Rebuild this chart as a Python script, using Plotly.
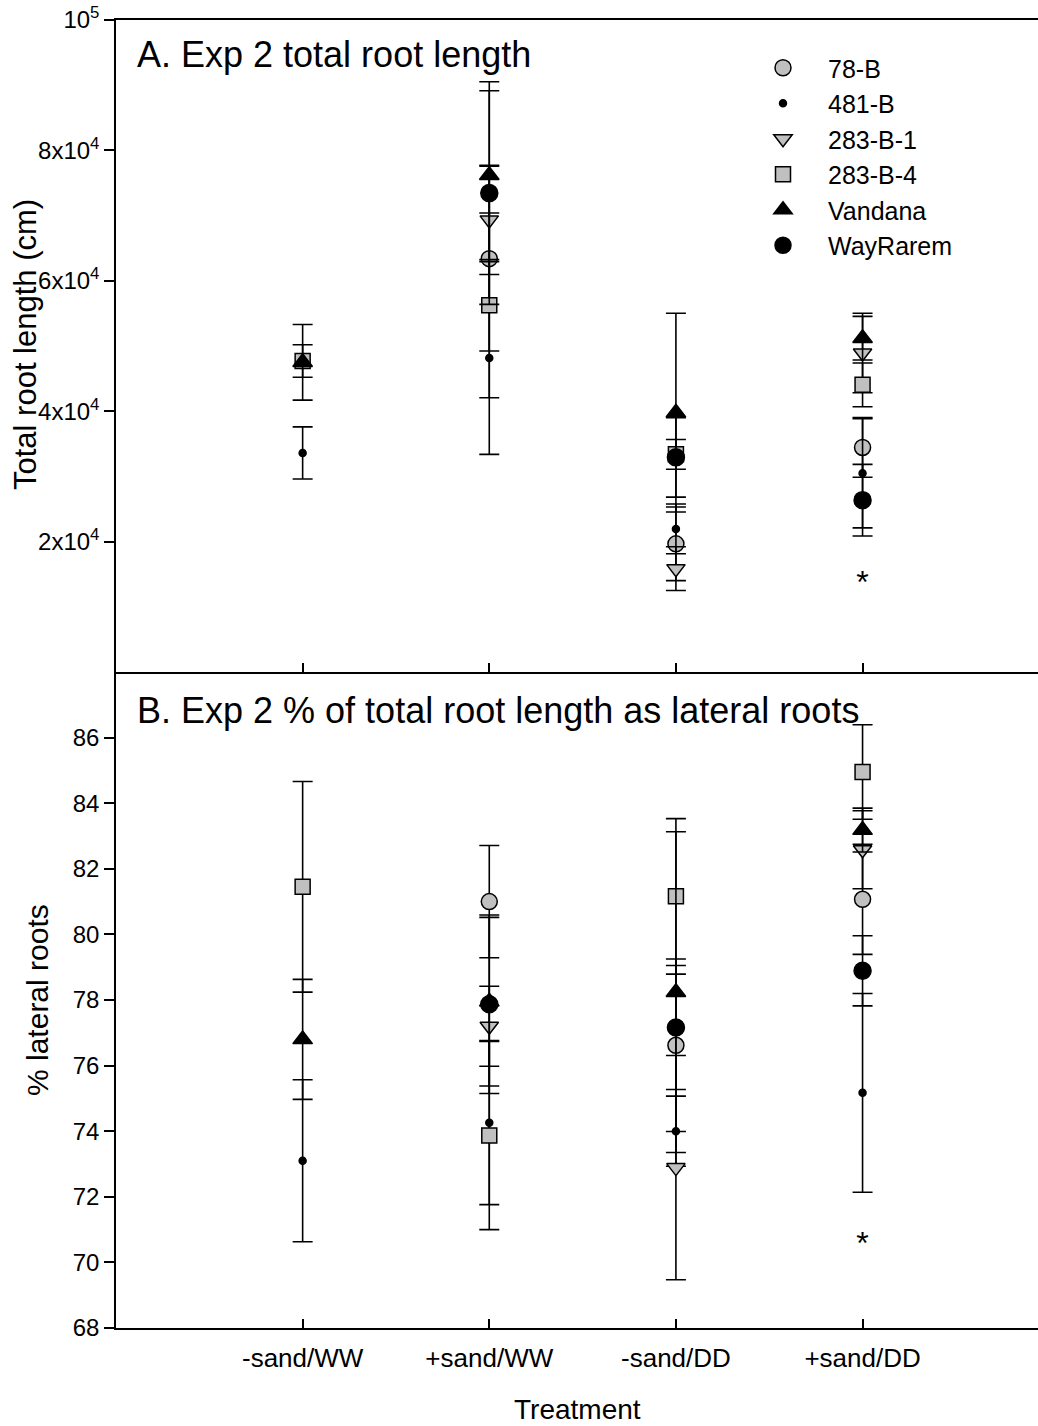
import plotly.graph_objects as go

treatments = ["-sand/WW", "+sand/WW", "-sand/DD", "+sand/DD"]
tpos = [1, 2, 3, 4]
genotypes = ["78-B", "481-B", "283-B-1", "283-B-4", "Vandana", "WayRarem"]

# Panel A: total root length (cm), means and error
len_78B = [None, 63400, 19660, 34440]
len_78B_err = [None, 14170, 5640, 4570]
len_481B = [33600, 48160, 21950, 30480]
len_481B_err = [4000, 14780, 3810, 8380]
len_283B1 = [None, 69340, 15850, 48920]
len_283B1_err = [None, 8380, 3350, 6100]
len_283B4 = [47700, 56240, 33380, 44040]
len_283B4_err = [2500, 14170, 2290, 3350]
len_vand = [47500, 76200, 39780, 51200]
len_vand_err = [5800, 12950, 15240, 3350]
len_wr = [None, 73450, 32920, 26360]
len_wr_err = [None, 17070, 6100, 5490]

# Panel B: % lateral roots
lat_78B = [None, 81.0, 76.62, 81.07]
lat_78B_err = [None, 1.71, 2.63, 1.68]
lat_481B = [73.1, 74.26, 74.0, 75.17]
lat_481B_err = [2.47, 2.5, 1.07, 3.03]
lat_283B1 = [None, 77.2, 72.89, 82.58]
lat_283B1_err = [None, 1.22, 3.42, 1.19]
lat_283B4 = [81.45, 73.87, 81.16, 84.95]
lat_283B4_err = [3.21, 2.87, 2.37, 1.44]
lat_vand = [76.8, 77.95, 78.24, 83.18]
lat_vand_err = [1.83, 2.57, 4.89, 0.67]
lat_wr = [None, 77.87, 77.16, 78.89]
lat_wr_err = [None, 2.72, 1.89, 1.07]

# significance marks
sig_x = [4]
sig_len = [13400]
sig_lat = [70.5]

top_ticks = [20000, 40000, 60000, 80000, 100000]
top_ticktext = ["2x10<sup>4</sup>", "4x10<sup>4</sup>", "6x10<sup>4</sup>", "8x10<sup>4</sup>", "10<sup>5</sup>"]
bot_ticks = [68, 70, 72, 74, 76, 78, 80, 82, 84, 86]

FONT = "Liberation Sans, Arial, sans-serif"
GRAY = "#c0c0c0"

styles = {
    "78-B": dict(symbol="circle", size=16, color=GRAY),
    "481-B": dict(symbol="circle", size=7, color="black"),
    "283-B-1": dict(symbol="triangle-down", size=16, color=GRAY),
    "283-B-4": dict(symbol="square", size=15, color=GRAY),
    "Vandana": dict(symbol="triangle-up", size=17, color="black"),
    "WayRarem": dict(symbol="circle", size=17, color="black"),
}

len_data = {
    "78-B": (len_78B, len_78B_err),
    "481-B": (len_481B, len_481B_err),
    "283-B-1": (len_283B1, len_283B1_err),
    "283-B-4": (len_283B4, len_283B4_err),
    "Vandana": (len_vand, len_vand_err),
    "WayRarem": (len_wr, len_wr_err),
}
lat_data = {
    "78-B": (lat_78B, lat_78B_err),
    "481-B": (lat_481B, lat_481B_err),
    "283-B-1": (lat_283B1, lat_283B1_err),
    "283-B-4": (lat_283B4, lat_283B4_err),
    "Vandana": (lat_vand, lat_vand_err),
    "WayRarem": (lat_wr, lat_wr_err),
}

fig = go.Figure()


def marker_for(g):
    s = styles[g]
    return dict(symbol=s["symbol"], size=s["size"], color=s["color"],
                line=dict(color="black", width=1.5))


for g in genotypes:
    y, e = len_data[g]
    fig.add_trace(go.Scatter(
        x=tpos, y=y, mode="markers", name=g, legendgroup=g,
        marker=marker_for(g),
        error_y=dict(type="data", array=e, visible=True, color="black",
                     thickness=1.6, width=10),
        xaxis="x2", yaxis="y2", showlegend=True,
    ))
for g in genotypes:
    y, e = lat_data[g]
    fig.add_trace(go.Scatter(
        x=tpos, y=y, mode="markers", name=g, legendgroup=g,
        marker=marker_for(g),
        error_y=dict(type="data", array=e, visible=True, color="black",
                     thickness=1.6, width=10),
        xaxis="x", yaxis="y", showlegend=False,
    ))

fig.add_trace(go.Scatter(x=sig_x, y=sig_len, mode="text", text=["*"],
                         textfont=dict(size=32, color="black", family=FONT),
                         xaxis="x2", yaxis="y2", showlegend=False))
fig.add_trace(go.Scatter(x=sig_x, y=sig_lat, mode="text", text=["*"],
                         textfont=dict(size=32, color="black", family=FONT),
                         xaxis="x", yaxis="y", showlegend=False))

split = (1328 - 672) / 1308.0
xr = [0, 4.94]
common_x = dict(range=xr, showgrid=False, zeroline=False, showline=True,
                linecolor="black", linewidth=1.5, ticks="inside", ticklen=9,
                tickwidth=1.5, tickcolor="black", tickvals=tpos)
common_y = dict(showgrid=False, zeroline=False, showline=True, linecolor="black",
                linewidth=1.5, ticks="outside", ticklen=10, tickwidth=1.5,
                tickcolor="black", tickfont=dict(size=24))

fig.update_layout(
    width=1038, height=1426,
    margin=dict(l=116, r=0, t=20, b=98),
    paper_bgcolor="white", plot_bgcolor="white",
    font=dict(family=FONT, size=24, color="black"),
    showlegend=True,
    legend=dict(x=(738 - 116) / 922.0, y=1 - 25 / 1308.0, xanchor="left", yanchor="top",
                bgcolor="rgba(0,0,0,0)", font=dict(size=25),
                traceorder="normal", itemwidth=80),
    xaxis=dict(**common_x, domain=[0, 1], anchor="y", ticktext=treatments,
               tickfont=dict(size=26), ticklabelstandoff=6),
    yaxis=dict(**common_y, domain=[0, split], range=[68, 88], tickvals=bot_ticks),
    xaxis2=dict(**common_x, domain=[0, 1], anchor="y2", ticktext=treatments,
                showticklabels=False, mirror=True),
    yaxis2=dict(**common_y, domain=[split, 1], range=[0, 100000], tickvals=top_ticks,
                ticktext=top_ticktext),
    annotations=[
        dict(text="A. Exp 2 total root length", xref="paper", yref="paper",
             x=(135 - 116) / 922.0, y=1 - 35 / 1308.0, xanchor="left",
             yanchor="middle", showarrow=False, font=dict(size=36)),
        dict(text="B. Exp 2 % of total root length as lateral roots",
             xref="paper", yref="paper", x=(135 - 116) / 922.0,
             y=(1328 - 710) / 1308.0, xanchor="left", yanchor="middle",
             showarrow=False, font=dict(size=36)),
        dict(text="Total root length (cm)", xref="paper", yref="paper",
             x=(25 - 116) / 922.0, y=(1328 - 345) / 1308.0, xanchor="center",
             yanchor="middle", textangle=-90, showarrow=False, font=dict(size=31)),
        dict(text="% lateral roots", xref="paper", yref="paper",
             x=(37 - 116) / 922.0, y=(1328 - 1000) / 1308.0, xanchor="center",
             yanchor="middle", textangle=-90, showarrow=False, font=dict(size=30)),
        dict(text="Treatment", xref="paper", yref="paper",
             x=0.5, y=(1328 - 1410) / 1308.0, xanchor="center",
             yanchor="middle", showarrow=False, font=dict(size=28)),
    ],
)

fig.write_html("out.html")
